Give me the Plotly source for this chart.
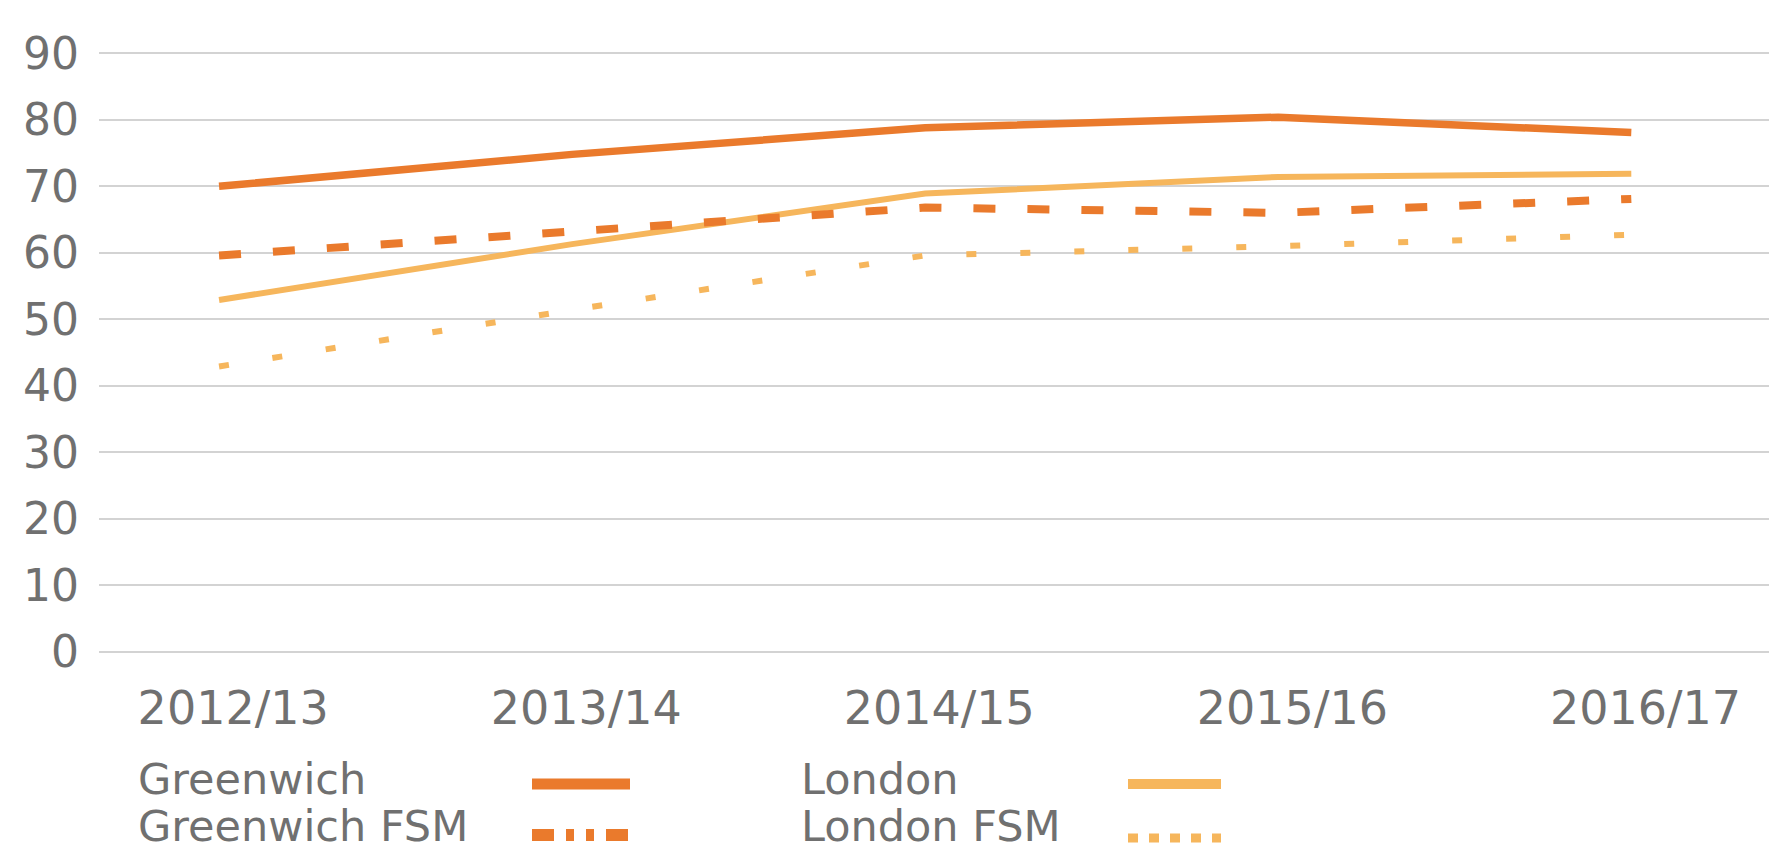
import plotly.graph_objects as go

# ---- data ----
years = ["2012/13", "2013/14", "2014/15", "2015/16", "2016/17"]
greenwich = [70, 74.8, 78.8, 80.4, 78.1]
london = [52.9, 61.3, 68.9, 71.4, 71.9]
greenwich_fsm = [59.6, 63.1, 66.8, 66.0, 68.1]
london_fsm = [42.9, 51.4, 59.6, 61.0, 62.7]
y_ticks = [0, 10, 20, 30, 40, 50, 60, 70, 80, 90]

DARK = "#EA7A2C"
LIGHT = "#F6B65C"
GRID = "#D3D3D3"
TXT = "#707070"
FONT = "DejaVu Sans"

W, H = 1769, 851
ML, MR, MT, MB = 99, 0, 50, 196

series = [
    ("Greenwich", greenwich, DARK, 7.5, "solid"),
    ("London", london, LIGHT, 6, "solid"),
    ("Greenwich FSM", greenwich_fsm, DARK, 8, "22px,32px"),
    ("London FSM", london_fsm, LIGHT, 6, "10px,44px"),
]

xs = list(range(len(years)))
fig = go.Figure()
for name, vals, col, wdt, dash in series:
    fig.add_trace(go.Scatter(x=xs, y=vals, mode="lines", name=name,
                             line=dict(color=col, width=wdt, dash=dash),
                             showlegend=False))

def px_x(p):
    return (p - ML) / (W - ML - MR)

def px_y(p):
    return (H - MB - p) / (H - MT - MB)

# custom legend: text then line sample, two columns
legend_items = [
    ("Greenwich", 136, 779, 532, 630, 784, DARK, 11, "solid"),
    ("Greenwich FSM", 136, 826, 532, 630, 835, DARK, 12,
     "22px,12px,8px,12px,8px,12px,22px,200px"),
    ("London", 799, 779, 1128, 1221, 784, LIGHT, 10, "solid"),
    ("London FSM", 799, 826, 1128, 1221, 838, LIGHT, 9, "10px,11px"),
]
for text, tx, ty, x0, x1, ly, col, wdt, dash in legend_items:
    fig.add_annotation(x=px_x(tx), y=px_y(ty), xref="paper", yref="paper",
                       text=text, showarrow=False, xanchor="left", yanchor="middle",
                       font=dict(family=FONT, size=43, color=TXT))
    fig.add_shape(type="line", xref="paper", yref="paper",
                  x0=px_x(x0), x1=px_x(x1), y0=px_y(ly), y1=px_y(ly),
                  line=dict(color=col, width=wdt, dash=dash))

fig.update_layout(
    width=W, height=H,
    margin=dict(l=ML, r=MR, t=MT, b=MB),
    paper_bgcolor="white", plot_bgcolor="white",
    xaxis=dict(tickmode="array", tickvals=[x + 0.04 for x in xs], ticktext=years,
               range=[-0.34, 4.39], showgrid=False, zeroline=False,
               showline=False, ticks="",
               tickfont=dict(family=FONT, size=46, color=TXT),
               ticklabelstandoff=22),
    yaxis=dict(range=[-0.5, 90.5], tickmode="array", tickvals=y_ticks,
               showgrid=True, gridcolor=GRID, gridwidth=2,
               zeroline=False, showline=False, ticks="",
               tickfont=dict(family=FONT, size=44, color=TXT),
               ticklabelstandoff=19),
)

fig.write_html("out.html", config={"displayModeBar": False},
               post_script="document.body.style.margin='0';")
